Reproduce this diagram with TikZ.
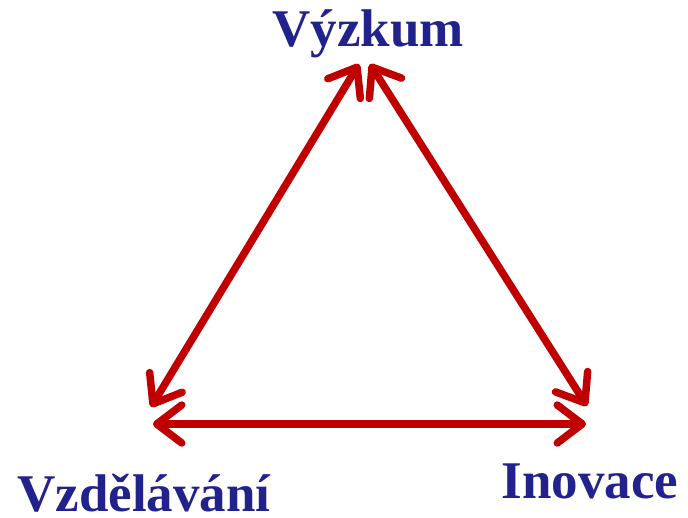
\documentclass[tikz,border=0pt]{standalone}
\usepackage{fontspec}
\setmainfont{Liberation Serif}
\usetikzlibrary{arrows.meta}
\definecolor{lblue}{RGB}{34,34,140}
\definecolor{ared}{RGB}{192,0,0}
\tikzset{
  lbl/.style={font=\fontsize{53}{58}\selectfont\bfseries, text=lblue, inner sep=0pt, anchor=base},
  twoway/.style={draw=ared, line width=7.5pt, line cap=round,
    {Straight Barb[length=25pt, width=38pt, round]}-{Straight Barb[length=25pt, width=38pt, round]}}
}
\begin{document}
\begin{tikzpicture}[x=1pt,y=-1pt]
\useasboundingbox (0,0) rectangle (688,517);
\node[lbl] (vyz) at (368,46) {Výzkum};
\node[lbl, text depth=0pt] (vzd) at (144,511) {Vzdělávání};
\node[lbl] (ino) at (590,498) {Inovace};
\coordinate (t1) at (359,64);
\coordinate (t2) at (370,64);
\coordinate (l1) at (151,407);
\coordinate (r1) at (587,406);
\coordinate (l2) at (153,424);
\coordinate (r2) at (586,424);
\draw[twoway] (t1) -- (l1);
\draw[twoway] (t2) -- (r1);
\draw[twoway] (l2) -- (r2);
\end{tikzpicture}
\end{document}
